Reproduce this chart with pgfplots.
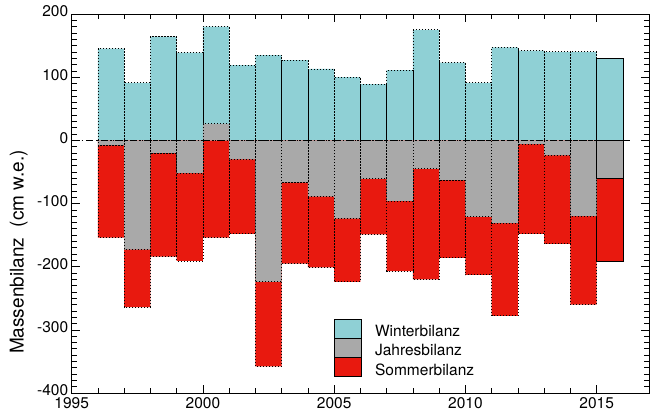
\documentclass[border=0pt]{standalone}
\usepackage{fontspec}
\setmainfont{TeX Gyre Heros}
\usepackage{pgfplots}
\pgfplotsset{compat=1.18}
\definecolor{winter}{RGB}{143,208,213}
\definecolor{jahr}{RGB}{169,169,169}
\definecolor{sommer}{RGB}{232,25,15}
\tikzset{dotb/.style={draw=black, line width=0.9pt, dash pattern=on 1.1pt off 1.9pt}}
\begin{document}
\begin{tikzpicture}
\useasboundingbox (0,0) rectangle (650pt,412pt);
\begin{axis}[
  at={(71.7pt,19pt)}, anchor=south west,
  scale only axis, width=577.5pt, height=379pt,
  xmin=1995, xmax=2017, ymin=-400, ymax=200,
  xtick={1995,2000,...,2015}, minor x tick num=4,
  ytick={-400,-300,...,200}, minor y tick num=9,
  major tick length=8pt, minor tick length=5pt,
  tick style={black, line width=0.6pt},
  axis line style={line width=1pt},
  /pgf/number format/assume math mode=true,
  /pgf/number format/1000 sep={},
  tick label style={font=\fontsize{15.5}{18}\selectfont},
  yticklabel style={yshift=2.5pt},
  xticklabel style={yshift=-1pt},
  every axis y label/.style={at={(axis description cs:-0.0918,0.372)}, rotate=90, anchor=center, font=\fontsize{19}{22}\selectfont},
  ylabel={Massenbilanz\ \ (cm w.e.)},
  legend style={at={(axis cs:2005,-282)}, anchor=north west, draw=none, fill=none,
    inner sep=0pt, row sep=0pt, column sep=13.6pt,
    font=\fontsize{15.5}{18}\selectfont,
    nodes={inner sep=0pt, text height=17.5pt, text depth=1.5pt}},
  legend cell align=left,
  legend image code/.code={\fill[#1] (0pt,-9.5pt) rectangle (26.7pt,9.5pt);},
]
% Winterbilanz
\addplot[ybar interval, fill=winter, dotb, forget plot] coordinates {
(1996,145) (1997,91) (1998,164) (1999,139) (2000,180) (2001,119) (2002,135)
(2003,127) (2004,113) (2005,100) (2006,89) (2007,111) (2008,175) (2009,123)
(2010,91) (2011,147) (2012,142) (2013,140) (2014,140) (2015,130)};
\addplot[ybar interval, fill=winter, draw=black, line width=0.9pt, forget plot] coordinates {(2015,130) (2016,130)};
% Sommerbilanz
\addplot[ybar interval, fill=sommer, dotb, forget plot] coordinates {
(1996,-154) (1997,-264) (1998,-184) (1999,-191) (2000,-154) (2001,-148) (2002,-358)
(2003,-195) (2004,-201) (2005,-224) (2006,-149) (2007,-207) (2008,-220) (2009,-186)
(2010,-213) (2011,-278) (2012,-148) (2013,-164) (2014,-260) (2015,-191)};
\addplot[ybar interval, fill=sommer, draw=black, line width=0.9pt, forget plot] coordinates {(2015,-191) (2016,-191)};
% Jahresbilanz
\addplot[ybar interval, fill=jahr, dotb, forget plot] coordinates {
(1996,-8) (1997,-173) (1998,-20) (1999,-52) (2000,26) (2001,-30) (2002,-224)
(2003,-67) (2004,-89) (2005,-124) (2006,-61) (2007,-96) (2008,-45) (2009,-63)
(2010,-121) (2011,-131) (2012,-6) (2013,-24) (2014,-120) (2015,-61)};
\addplot[ybar interval, fill=jahr, draw=black, line width=0.9pt, forget plot] coordinates {(2015,-61) (2016,-61)};
% zero line
\addplot[black, line width=0.9pt, dash pattern=on 7pt off 3pt on 1.5pt off 3pt, forget plot] coordinates {(1995,0) (2016.3,0)};
\addlegendimage{fill=winter}
\addlegendentry{Winterbilanz}
\addlegendimage{fill=jahr}
\addlegendentry{Jahresbilanz}
\addlegendimage{fill=sommer}
\addlegendentry{Sommerbilanz}
\end{axis}
\end{tikzpicture}
\end{document}
